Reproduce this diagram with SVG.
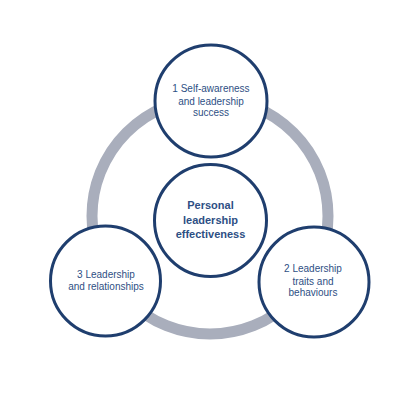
<svg xmlns="http://www.w3.org/2000/svg" width="420" height="400" viewBox="0 0 420 400">
<style>
.ring{fill:none;stroke:#a9aebc;stroke-width:11}
.node{fill:#ffffff;stroke:#1f3e6e;stroke-width:3}
.t{font-family:"Liberation Sans",Arial,sans-serif;font-size:10px;fill:#2e4f84;text-anchor:middle}
.b{font-family:"Liberation Sans",Arial,sans-serif;font-size:11px;font-weight:bold;fill:#2e4f84;text-anchor:middle}
</style>
<rect width="420" height="400" fill="#ffffff"/>
<g id="connectors">
<circle class="ring" cx="210" cy="216" r="118"/>
</g>
<g id="node-top">
<circle class="node" cx="211" cy="101" r="56"/>
<text class="t" x="211" y="92">1 Self-awareness</text>
<text class="t" x="211" y="104.5">and leadership</text>
<text class="t" x="211" y="116">success</text>
</g>
<g id="node-center">
<circle class="node" cx="210.5" cy="220.5" r="56"/>
<text class="b" x="210.5" y="209">Personal</text>
<text class="b" x="210.5" y="224">leadership</text>
<text class="b" x="210.5" y="238">effectiveness</text>
</g>
<g id="node-left">
<circle class="node" cx="105.5" cy="281" r="55"/>
<text class="t" x="106" y="278">3  Leadership</text>
<text class="t" x="106" y="290">and relationships</text>
</g>
<g id="node-right">
<circle class="node" cx="314" cy="282" r="55"/>
<text class="t" x="313" y="272">2  Leadership</text>
<text class="t" x="313" y="284.5">traits and</text>
<text class="t" x="313" y="296">behaviours</text>
</g>
</svg>
